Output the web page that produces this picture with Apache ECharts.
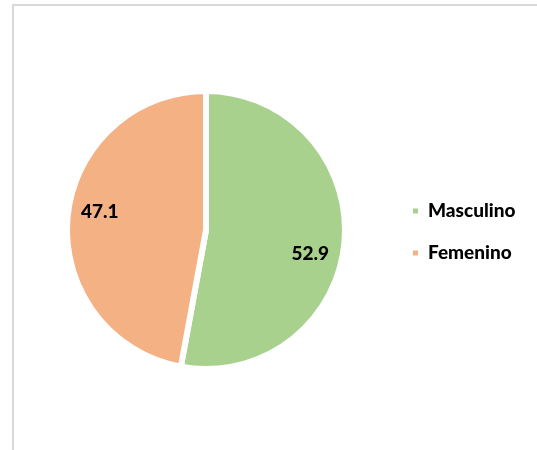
<!DOCTYPE html>
<html>
<head>
<meta charset="utf-8">
<script src="https://cdn.jsdelivr.net/npm/echarts@6/dist/echarts.min.js"></script>
<style>
  html, body { margin: 0; padding: 0; background: #fff; }
  #chart { width: 537px; height: 450px; }
</style>
</head>
<body>
<div id="chart"></div>
<script>
// datos del grafico
var categorias = ['Masculino', 'Femenino'];
var valores = [52.9, 47.1];
var colores = ['#A9D18E', '#F4B183'];

// desplazamiento de las etiquetas hacia el borde (estilo Excel)
var desplLabel = [[32, 17], [-34, -12]];

var myChart = echarts.init(document.getElementById('chart'));

var datos = categorias.map(function (nombre, i) {
    return { name: nombre, value: valores[i], itemStyle: { color: colores[i] } };
});

var option = {
    animation: false,
    graphic: [{
        type: 'rect',
        shape: { x: 13, y: 5, width: 700, height: 700 },
        style: { fill: 'none', stroke: '#d9d9d9', lineWidth: 2 },
        silent: true
    }],
    legend: {
        orient: 'vertical',
        left: 406,
        top: 195,
        itemWidth: 7,
        itemHeight: 7,
        itemGap: 20,
        icon: 'rect',
        data: categorias,
        textStyle: {
            fontFamily: 'Lato',
            fontWeight: 900,
            fontSize: 19,
            color: '#000',
            lineHeight: 22,
            padding: [0, 0, 0, 4]
        }
    },
    series: [{
        name: 'Sexo',
        type: 'pie',
        center: [206, 230],
        radius: 139,
        startAngle: 90,
        clockwise: true,
        itemStyle: { borderColor: '#fff', borderWidth: 6 },
        label: {
            show: true,
            position: 'inside',
            formatter: function (p) { return p.value.toFixed(1); },
            fontFamily: 'Lato',
            fontWeight: 900,
            fontSize: 19,
            color: '#000'
        },
        labelLayout: function (p) {
            return { dx: desplLabel[p.dataIndex][0], dy: desplLabel[p.dataIndex][1] };
        },
        data: datos
    }]
};

myChart.setOption(option);
</script>
</body>
</html>
